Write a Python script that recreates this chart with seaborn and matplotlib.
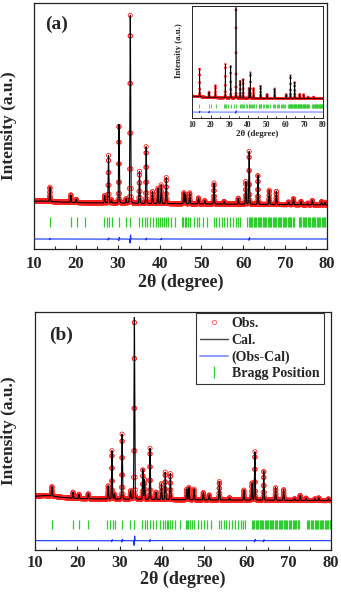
import numpy as np
import pandas as pd
import matplotlib
matplotlib.use("Agg")
import matplotlib.pyplot as plt
import seaborn as sns
from matplotlib.lines import Line2D
from matplotlib.ticker import MultipleLocator

# ---------------- data ----------------
# Panel (a)
peaks_a_pos = [13.8, 18.8, 20.1, 26.9, 27.8, 28.5, 30.3, 32.0, 33.0, 35.2, 36.8,
               38.3, 39.6, 40.4, 41.6, 45.8, 46.2, 47.2, 49.3, 50.8, 53.0, 55.4,
               58.8, 60.6, 61.4, 63.5, 66.2, 67.9, 70.8, 72.0, 73.8, 75.4, 76.5,
               78.7, 79.5]
peaks_a_h = [43, 23, 10, 23, 143, 10, 236, 13, 563, 96, 170,
             36, 46, 56, 78, 33, 28, 33, 18, 10, 63, 8,
             18, 68, 158, 88, 43, 40, 8, 18, 10, 5, 13,
             10, 8]
bg_a_x = [10, 12, 14, 20, 30, 50, 80]
bg_a_y = [6, 7, 5, 2, 0, -2, -5]
diff_a_pos = [13.8, 27.8, 30.3, 33.0, 36.8, 40.4, 61.4]
diff_a_amp = [2, 3, 5, 12, 3, 2, 4]
bragg_a = [13.9, 18.8, 20.2, 22.3, 26.8, 27.5, 27.9, 28.6, 30.3, 32.0, 33.0,
           35.1, 35.8, 36.4, 37.0, 37.8, 38.4, 39.1, 39.7, 40.2, 40.6, 41.0,
           41.5, 42.1, 42.7, 43.6, 45.4, 45.7, 46.0, 46.3, 46.7, 47.3, 48.2,
           48.9, 49.5, 50.3, 51.3, 53.1, 53.5, 54.2, 54.8, 55.5, 56.2, 56.9,
           57.5, 58.2, 58.7, 59.3,
           61.0, 61.3, 61.6, 61.9, 62.2, 62.5, 62.8, 63.1, 63.4, 63.7, 64.0,
           64.3, 64.6, 64.9, 65.2, 65.5, 65.8, 66.1, 66.4, 66.7, 67.0, 67.3,
           67.6, 67.9, 68.2, 68.5, 68.8, 69.1, 69.4, 69.7, 70.0, 70.3, 70.6,
           70.9, 71.2, 71.5, 71.8, 72.1,
           73.3, 73.6, 73.9, 74.2, 74.5, 74.8, 75.1, 75.4, 75.7, 76.0, 76.3,
           76.6, 76.9, 77.2, 77.5, 77.8, 78.1, 78.4, 78.7, 79.0, 79.3, 79.6,
           79.9]

# Panel (b)
peaks_b_pos = [14.0, 19.0, 20.4, 22.6, 27.3, 28.2, 28.8, 30.6, 32.6, 33.5, 35.5,
               35.9, 37.2, 38.6, 39.9, 40.8, 42.0, 45.9, 46.4, 47.6, 49.8, 51.2,
               53.6, 56.0, 59.4, 61.3, 62.0, 64.1, 66.9, 68.8, 71.4, 72.7, 74.1,
               76.2, 77.1, 79.4]
peaks_b_h = [28, 18, 13, 15, 40, 145, 15, 195, 25, 545, 90,
             60, 153, 22, 48, 82, 78, 32, 37, 32, 22, 15,
             55, 7, 30, 52, 145, 88, 38, 32, 5, 15, 7,
             5, 8, 5]
bg_b_x = [10, 12, 14, 16, 20, 30, 50, 80]
bg_b_y = [9, 11, 10, 6, 2, 0, -2, -4]
diff_b_pos = [28.2, 30.6, 33.5, 37.2, 62.0, 64.1]
diff_b_amp = [3, 4, 14, 3, 4, 3]
bragg_b = [14.0, 19.1, 20.4, 22.6, 27.1, 27.7, 28.4, 29.0, 30.6, 32.4, 33.3,
           35.4, 36.0, 36.6, 37.2, 37.8, 38.6, 39.6, 40.2, 40.7, 41.1, 41.5,
           42.0, 42.4, 43.0, 44.2, 45.7, 46.0, 46.3, 46.7, 47.1, 47.7, 48.5,
           49.3, 49.9, 50.7, 51.7, 53.5, 53.9, 54.6, 55.2, 55.9, 56.6, 57.3,
           57.9, 58.6, 59.1, 59.7,
           61.3, 61.6, 61.9, 62.2, 62.5, 62.8, 63.1, 63.4, 63.7, 64.0, 64.3,
           64.6, 64.9, 65.2, 65.5, 65.8, 66.1, 66.4, 66.7, 67.0, 67.3, 67.6,
           67.9, 68.2, 68.5, 68.8, 69.1, 69.4, 69.7, 70.0, 70.3, 70.6, 70.9,
           71.2, 71.5, 71.8, 72.1, 72.4,
           74.3, 74.6, 74.9, 75.2, 75.5, 75.8, 76.1, 76.4, 76.7, 77.0, 77.3,
           77.6, 77.9, 78.2, 78.5, 78.8, 79.1, 79.4, 79.7, 80.0]

# Inset of panel (a)
peaks_i_pos = [14.1, 19.1, 22.5, 27.8, 30.7, 33.5, 35.7, 37.3, 40.5, 41.2,
               42.9, 46.7, 50.1, 54.2, 60.3, 62.6, 64.9, 67.6, 69.7, 72.0, 75.0]
peaks_i_h = [85, 17, 37, 102, 97, 273, 52, 57, 30, 77,
             30, 37, 12, 29, 12, 69, 49, 13, 12, 5, 5]
bg_i_x = [10, 14, 20, 30, 50, 80]
bg_i_y = [6, 4, 1, 0, -1, -2]
diff_i_pos = [14.1, 19.1, 33.5]
diff_i_amp = [3, 3, 4]
bragg_i = bragg_b

tick_values = [10, 20, 30, 40, 50, 60, 70, 80]

# ---------------- helpers ----------------
x_cal = np.arange(10.0, 80.0001, 0.01)
x_obs = np.arange(10.0, 80.0001, 0.04)


def calc_profile(x, pos, h, bgx, bgy, fwhm=0.2, eta=0.12):
    y = np.interp(x, bgx, bgy).astype(float)
    for p, a in zip(pos, h):
        u = (x - p) / fwhm
        g = np.exp(-4 * np.log(2) * u ** 2)
        lo = 1.0 / (1.0 + 4 * u ** 2)
        y += a * (eta * lo + (1 - eta) * g)
    return y


def diff_profile(x, pos, amp, offset, w=0.06):
    y = np.full_like(x, offset, dtype=float)
    for p, a in zip(pos, amp):
        u = (x - p) / w
        y += a * u * np.exp(0.5 - u ** 2 / 2)
    return y


# ---------------- style ----------------
sns.set_theme(style="ticks")
plt.rcParams["font.family"] = ["Liberation Serif", "DejaVu Serif"]
plt.rcParams["font.weight"] = "bold"
plt.rcParams["axes.labelweight"] = "bold"

RED = "#ff2020"
GREEN = "#2ecc2e"
BLUE = "#1030ff"

fig = plt.figure(figsize=(3.41, 5.99), dpi=100)


def draw_panel(ax, pos, h, bgx, bgy, dpos, damp, bragg, ylim, bragg_rng, diff_off,
               ms=9, lw=0.8, mlw=0.6, blw=0.9):
    df_obs = pd.DataFrame({"x": x_obs,
                           "obs": calc_profile(x_obs, pos, h, bgx, bgy)})
    df_cal = pd.DataFrame({"x": x_cal,
                           "cal": calc_profile(x_cal, pos, h, bgx, bgy),
                           "diff": diff_profile(x_cal, dpos, damp, diff_off)})
    sns.scatterplot(data=df_obs, x="x", y="obs", ax=ax, marker="o", s=ms,
                    facecolor="none", edgecolor=RED, linewidth=mlw, zorder=2)
    sns.lineplot(data=df_cal, x="x", y="cal", ax=ax, color="black", lw=lw,
                 estimator=None, sort=False, zorder=3)
    sns.lineplot(data=df_cal, x="x", y="diff", ax=ax, color=BLUE, lw=lw,
                 estimator=None, sort=False, zorder=3)
    ax.vlines(bragg, bragg_rng[0], bragg_rng[1], color=GREEN, lw=blw, zorder=2)
    ax.set_xlim(10, 80)
    ax.set_ylim(*ylim)
    ax.set_yticks([])
    ax.set_xticks(tick_values)
    ax.xaxis.set_minor_locator(MultipleLocator(5))
    for s in ax.spines.values():
        s.set_linewidth(0.9)
        s.set_color("#222222")


def style_main(ax, pad):
    ax.tick_params(axis="x", which="major", direction="in", length=3, width=0.8,
                   labelsize=12, pad=pad, top=False)
    ax.tick_params(axis="x", which="minor", direction="in", length=2, width=0.8,
                   top=False)
    for t in ax.get_xticklabels():
        t.set_fontweight("bold")


# Panel (a)
ax_a = fig.add_axes([34 / 341, 1 - 249 / 599, 293 / 341, 246 / 599])
draw_panel(ax_a, peaks_a_pos, peaks_a_h, bg_a_x, bg_a_y, diff_a_pos, diff_a_amp,
           bragg_a, (-137, 600), (-72, -42), -107)
style_main(ax_a, 5)
ax_a.set_xlabel("2θ (degree)", fontsize=13, fontweight="bold", labelpad=1)
ax_a.set_ylabel("Intensity (a.u.)", fontsize=12.5, fontweight="bold")
ax_a.yaxis.set_label_coords(-0.058, 0.5)
ax_a.text(0.037, 0.95, "(a)", transform=ax_a.transAxes, fontsize=14,
          fontweight="bold", ha="left", va="top")

# Inset
ax_i = fig.add_axes([192 / 341, 1 - 118 / 599, 131 / 341, 112 / 599])
draw_panel(ax_i, peaks_i_pos, peaks_i_h, bg_i_x, bg_i_y, diff_i_pos, diff_i_amp,
           bragg_i, (-60, 277), (-30, -17), -42, ms=2, lw=0.5, mlw=0.4, blw=0.6)
ax_i.tick_params(axis="x", which="major", direction="in", length=2, width=0.6,
                 labelsize=5.5, pad=2)
ax_i.tick_params(axis="x", which="minor", direction="in", length=1.2, width=0.6)
for s in ax_i.spines.values():
    s.set_linewidth(0.7)
ax_i.set_xlabel("2θ (degree)", fontsize=6.5, fontweight="bold", labelpad=1)
ax_i.set_ylabel("Intensity (a.u.)", fontsize=6.3, fontweight="bold")
ax_i.yaxis.set_label_coords(-0.07, 0.6)

# Panel (b)
ax_b = fig.add_axes([35 / 341, 1 - 550 / 599, 296 / 341, 238 / 599])
draw_panel(ax_b, peaks_b_pos, peaks_b_h, bg_b_x, bg_b_y, diff_b_pos, diff_b_amp,
           bragg_b, (-152, 561), (-90, -62), -124)
style_main(ax_b, 3.5)
ax_b.set_xlabel("2θ (degree)", fontsize=13, fontweight="bold", labelpad=0)
ax_b.set_ylabel("Intensity (a.u.)", fontsize=12.5, fontweight="bold")
ax_b.yaxis.set_label_coords(-0.061, 0.5)
ax_b.text(0.047, 0.937, "(b)", transform=ax_b.transAxes, fontsize=14,
          fontweight="bold", ha="left", va="top")

handles = [
    Line2D([], [], ls="none", marker="o", markersize=3, markerfacecolor="none",
           markeredgecolor="#f07070", markeredgewidth=0.7, label="Obs."),
    Line2D([], [], color="#444444", lw=1.0, label="Cal."),
    Line2D([], [], color="#7a8cff", lw=1.2, label="(Obs-Cal)"),
    Line2D([], [], ls="none", marker="|", markersize=8, markeredgewidth=0.9,
           color=GREEN, label="Bragg Position"),
]
leg = ax_b.legend(handles=handles, loc="upper right", bbox_to_anchor=(0.975, 0.996),
                  borderaxespad=0, fontsize=10, frameon=True, fancybox=False,
                  edgecolor="#333333", framealpha=1, handlelength=2.0,
                  handletextpad=0.3, labelspacing=0.25, borderpad=0.3,
                  prop={"weight": "bold", "size": 10})
leg.get_frame().set_linewidth(0.8)

fig.savefig("out.png", dpi=100)
